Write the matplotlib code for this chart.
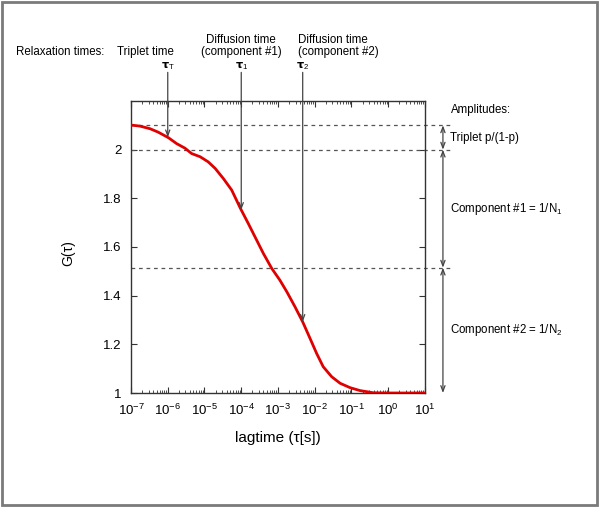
import matplotlib
matplotlib.use("Agg")
import matplotlib.pyplot as plt
import matplotlib.transforms as mtransforms
from matplotlib.patches import Rectangle
from matplotlib.ticker import LogLocator, FuncFormatter, NullFormatter
import numpy as np

# autocorrelation curve (log10 of lagtime, G)
log_lag = [-7.0, -6.76, -6.48, -6.26, -5.98, -5.76, -5.53, -5.35, -5.12, -4.90,
           -4.71, -4.49, -4.26, -4.02, -3.81, -3.58, -3.40, -3.17, -2.95, -2.76,
           -2.54, -2.33, -2.13, -1.95, -1.77, -1.54, -1.31, -1.04, -0.77, -0.41,
           -0.04, 0.41, 1.0]
G_vals = [2.101, 2.097, 2.086, 2.072, 2.049, 2.025, 2.006, 1.984, 1.971, 1.950,
          1.923, 1.882, 1.834, 1.758, 1.697, 1.628, 1.574, 1.512, 1.464, 1.416,
          1.355, 1.293, 1.225, 1.163, 1.108, 1.067, 1.040, 1.022, 1.010, 1.001,
          1.0, 1.0, 1.0]

# relaxation times marked with arrows
tau_names = [r"$\tau_\mathrm{T}$", r"$\tau_1$", r"$\tau_2$"]
tau_values = [1e-6, 1e-4, 4.7e-3]
tau_titles = ["Triplet time", "Diffusion time\n(component #1)", "Diffusion time\n(component #2)"]

# amplitude levels (dashed lines) and their labels
amp_levels = [2.1, 2.0, 1.515, 1.0]
amp_labels = ["Triplet p/(1-p)", r"Component #1 = 1/N$_1$", r"Component #2 = 1/N$_2$"]

plt.rcParams["font.family"] = ["Liberation Sans", "DejaVu Sans"]
plt.rcParams["mathtext.fontset"] = "custom"
plt.rcParams["mathtext.rm"] = "Liberation Sans"
plt.rcParams["mathtext.it"] = "DejaVu Sans:bold"
plt.rcParams["mathtext.bf"] = "Liberation Sans:bold"

lagtime = 10.0 ** np.array(log_lag)
G = np.array(G_vals)

fig = plt.figure(figsize=(6.0, 5.07), dpi=100)
ax = fig.add_axes([131 / 600, 1 - 393 / 507, 294 / 600, 292 / 507])

ax.plot(lagtime, G, color="#e00000", lw=2.0, solid_capstyle="butt", zorder=3)
ax.set_xscale("log")
ax.set_xlim(1e-7, 1e1)
ax.set_ylim(1.0, 2.2)

ax.xaxis.set_major_locator(LogLocator(base=10, numticks=20))
ax.xaxis.set_minor_locator(LogLocator(base=10, subs=np.arange(2, 10), numticks=20))
ax.xaxis.set_minor_formatter(NullFormatter())
ax.set_yticks([1.0, 1.2, 1.4, 1.6, 1.8, 2.0])
ax.yaxis.set_major_formatter(FuncFormatter(lambda v, p: "%g" % v))

spine_col = "#333333"
for s in ax.spines.values():
    s.set_color(spine_col)
    s.set_linewidth(1.0)
ax.tick_params(which="both", direction="in", top=True, right=True, colors=spine_col,
               labelcolor="black", labelsize=9.5)
ax.tick_params(which="major", length=4, width=0.8, pad=7)
ax.tick_params(which="minor", length=2, width=0.6)

ax.set_xlabel("lagtime (τ[s])", fontsize=11)
ax.xaxis.set_label_coords(0.5, -0.155)
ax.xaxis.label.set_verticalalignment("center")
ax.set_ylabel("G(τ)", fontsize=10)
ax.yaxis.set_label_coords(-0.214, 0.48)
ax.yaxis.label.set_verticalalignment("center")

# dashed amplitude levels extending to the right of the plot
trans = mtransforms.blended_transform_factory(ax.transAxes, ax.transData)
for lvl in amp_levels[:-1]:
    ax.plot([0, 1.092], [lvl, lvl], transform=trans, color="#555555", lw=0.9,
            ls=(0, (3, 3)), clip_on=False, zorder=2)

# double-headed arrows with amplitude labels
for i in range(len(amp_levels) - 1):
    top, bot = amp_levels[i], amp_levels[i + 1]
    ax.annotate("", xy=(1.061, bot), xytext=(1.061, top), xycoords=trans, textcoords=trans,
                arrowprops=dict(arrowstyle="<->,head_length=0.4,head_width=0.15",
                                color="#444444", lw=0.9, shrinkA=0, shrinkB=0),
                annotation_clip=False)
    ax.text(1.085, (top + bot) / 2, amp_labels[i], transform=trans, fontsize=8.3,
            ha="left", va="center")
ax.text(1.089, 2.162, "Amplitudes:", transform=trans, fontsize=8.3, ha="left", va="center")

# arrows from the relaxation times down to the curve
xtrans = ax.get_xaxis_transform()
for name, tau in zip(tau_names, tau_values):
    g_tip = np.interp(np.log10(tau), log_lag, G_vals)
    ax.annotate("", xy=(tau, g_tip), xycoords="data", xytext=(tau, 1.098), textcoords=xtrans,
                arrowprops=dict(arrowstyle="->,head_length=0.4,head_width=0.15",
                                color="#444444", lw=0.9, shrinkA=0, shrinkB=0),
                annotation_clip=False, zorder=4)
    ax.text(tau, 1.12, name, transform=xtrans, fontsize=8, ha="center", va="center")

fig.text(16 / 600, 1 - 52 / 507, "Relaxation times:", fontsize=8.3, ha="left", va="center")
fig.text(145 / 600, 1 - 52 / 507, tau_titles[0], fontsize=8.3, ha="center", va="center")
fig.text(241 / 600, 1 - 46 / 507, tau_titles[1], fontsize=8.3, ha="center", va="center",
         multialignment="center", linespacing=1.05)
fig.text(298 / 600, 1 - 46 / 507, tau_titles[2], fontsize=8.3, ha="left", va="center",
         multialignment="left", linespacing=1.05)

# outer frame
fig.patches.append(Rectangle((2 / 600, 2 / 507), 595 / 600, 503 / 507, transform=fig.transFigure,
                             fill=False, edgecolor="#7a7a7a", lw=2.0))

fig.savefig("out.png", dpi=100)
